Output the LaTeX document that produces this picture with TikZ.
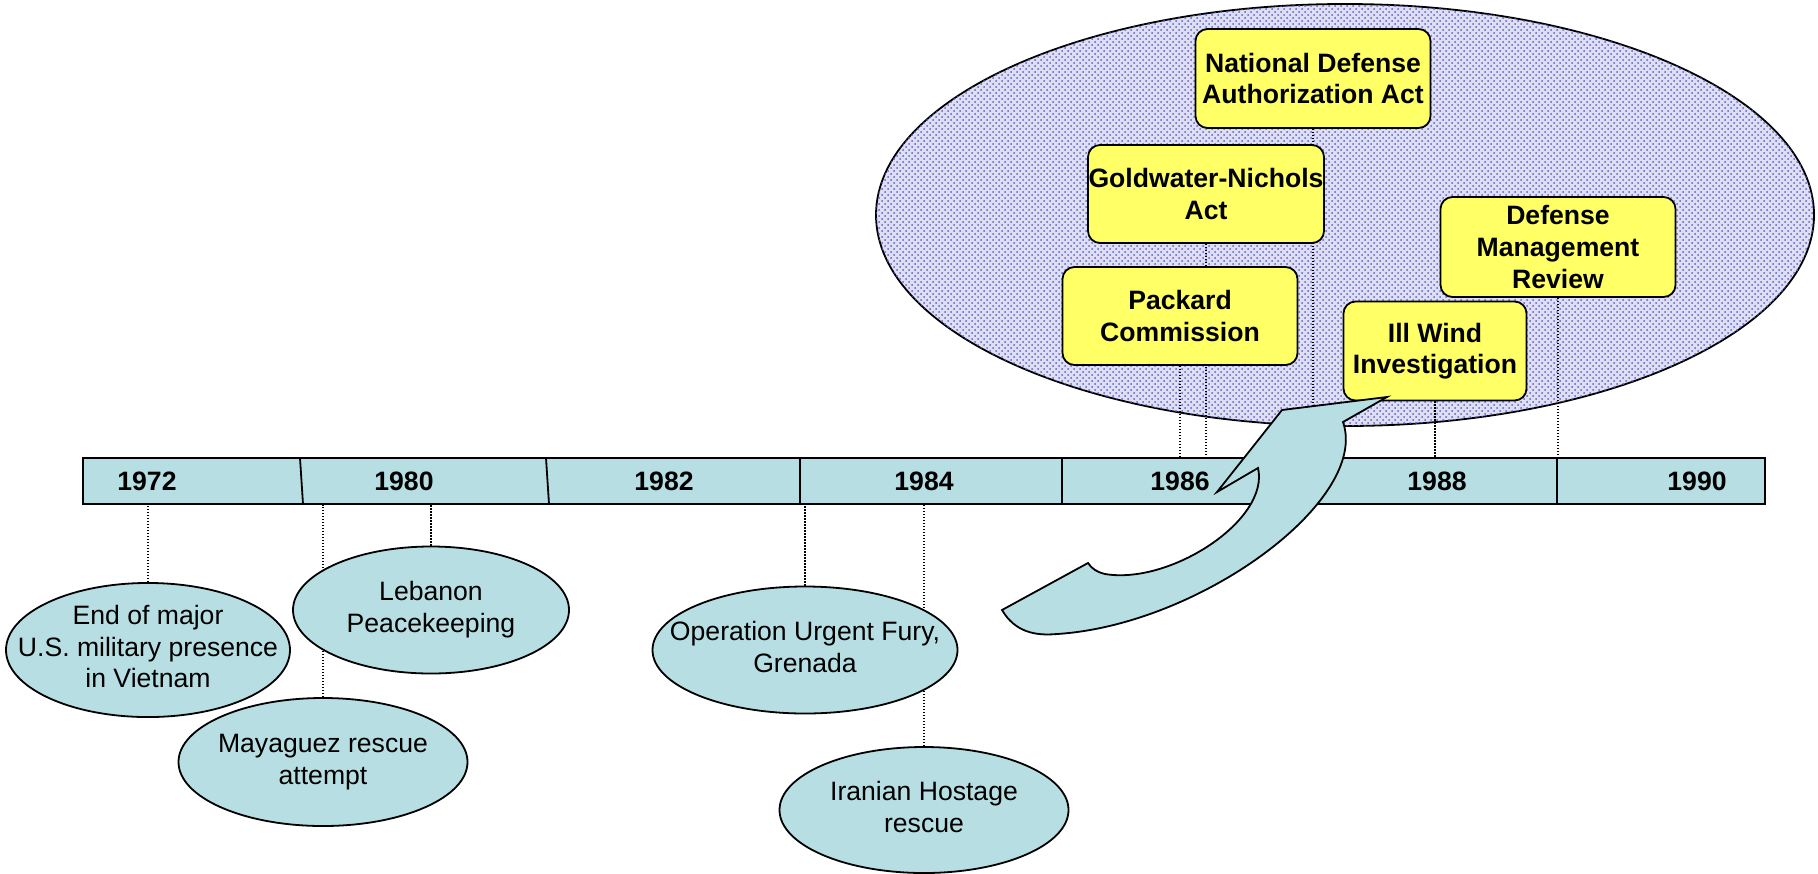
\documentclass[tikz,border=0pt]{standalone}
\usepackage{fontspec}
\setmainfont{Liberation Sans}
\usetikzlibrary{shapes.geometric,patterns,backgrounds}
\definecolor{evblue}{RGB}{183,223,227}
\definecolor{actyellow}{RGB}{255,255,102}
\definecolor{dotblue}{RGB}{95,95,195}
\definecolor{lavender}{RGB}{222,222,244}
\newcommand{\evtext}[1]{\raisebox{-2pt}{\makebox[0pt]{\begin{tabular}{@{}c@{}}#1\end{tabular}}}}

\begin{document}
\begin{tikzpicture}[x=0.5pt,y=-0.5pt,
    every node/.style={inner sep=0pt},
    event/.style={ellipse, draw=black, line width=0.9pt, fill=evblue, font=\fontsize{13.3}{15.8}\selectfont},
    act/.style={rectangle, rounded corners=6pt, draw=black, line width=0.9pt, fill=actyellow, align=center, font=\fontsize{13.3}{15.8}\selectfont\bfseries},
    yearlbl/.style={font=\fontsize{13.3}{15.8}\selectfont\bfseries},
    dotline/.style={black, line width=0.6pt, dash pattern=on 0.6pt off 0.9pt}]
    \useasboundingbox (0,0) rectangle (1818,873);
    \begin{scope}[on background layer]
        \draw [black, line width=0.9pt, fill=lavender, postaction={pattern=crosshatch dots, pattern color=dotblue}] (1345,215) ellipse [x radius=469, y radius=211];
    \end{scope}
    \node (bar) [draw=black, line width=0.9pt, fill=evblue, minimum width=841pt, minimum height=23pt] at (924,481) {};
    \foreach \xa/\xb in {300/303, 546/549, 800/800, 1062/1062, 1295/1295, 1557/1557}
        \draw [black, line width=0.9pt] (\xa,458) -- (\xb,504);
    \foreach \yr/\xx in {1972/147, 1980/404, 1982/664, 1984/924, 1986/1180, 1988/1437, 1990/1697}
        \node (y\yr) [yearlbl] at (\xx,481) {\yr};
    \node (vietnam) [event, minimum width=142pt, minimum height=63.5pt] at (148,650) {\evtext{End of major\\U.S. military presence\\in Vietnam}};
    \node (lebanon) [event, minimum width=138pt, minimum height=63.5pt] at (431,610) {\evtext{Lebanon\\Peacekeeping}};
    \node (mayaguez) [event, minimum width=144.5pt, minimum height=64pt] at (323,762) {\evtext{Mayaguez rescue\\attempt}};
    \node (grenada) [event, minimum width=152.5pt, minimum height=63.5pt] at (805,650) {\evtext{Operation Urgent Fury,\\Grenada}};
    \node (hostage) [event, minimum width=144.5pt, minimum height=63pt] at (924,810) {\evtext{Iranian Hostage\\rescue}};
    \node (ndaa) [act, minimum width=117.5pt, minimum height=49.5pt] at (1313,78.5) {National Defense\\Authorization Act};
    \node (goldwater) [act, minimum width=118pt, minimum height=49pt] at (1206,194) {Goldwater-Nichols\\Act};
    \node (packard) [act, minimum width=117.5pt, minimum height=49pt] at (1180,316) {Packard\\Commission};
    \node (dmr) [act, minimum width=117.5pt, minimum height=50pt] at (1558,247) {Defense\\Management\\Review};
    \node (illwind) [act, minimum width=91.5pt, minimum height=49.5pt] at (1435,351) {Ill Wind\\Investigation};
    \begin{scope}[on background layer]
        \foreach \ev in {vietnam, lebanon, mayaguez, grenada, hostage}
            \draw [dotline] (\ev.north) -- (\ev.north |- bar.south);
        \foreach \ac in {packard, goldwater, ndaa, illwind, dmr}
            \draw [dotline] (\ac.south) -- (\ac.south |- bar.north);
    \end{scope}
    \draw [black, line width=0.9pt, fill=evblue] (1002,610) .. controls (1015,632) and (1035,636) .. (1057,634)
        .. controls (1200,625) and (1370,500) .. (1343,422) -- (1387,397) -- (1282,410) -- (1217,492) -- (1258,468)
        .. controls (1270,520) and (1170,585) .. (1105,574) .. controls (1097,572) and (1092,569) .. (1088,563) -- cycle;
\end{tikzpicture}
\end{document}
